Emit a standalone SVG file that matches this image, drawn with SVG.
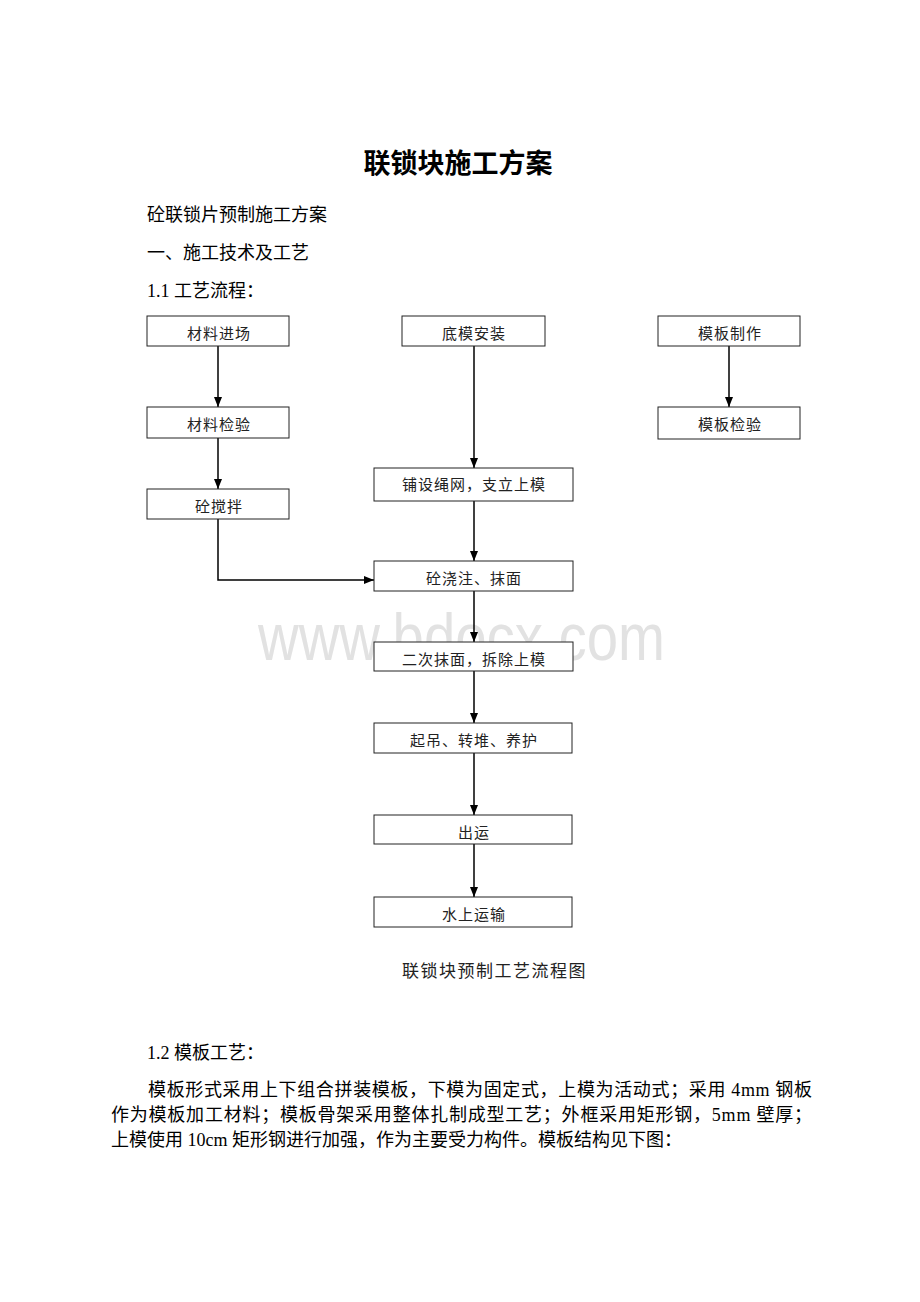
<svg xmlns="http://www.w3.org/2000/svg" width="920" height="1302" viewBox="0 0 920 1302">
<style>
.body{font-family:"Liberation Serif","Noto Sans CJK SC",serif;font-size:18px;fill:#000}
.title{font-family:"Noto Sans CJK SC",sans-serif;font-size:27px;font-weight:bold;fill:#000}
.box{fill:#fff;stroke:#222;stroke-width:1}
.lbl{font-family:"Noto Sans CJK SC",sans-serif;font-size:15px;letter-spacing:1px;fill:#222;text-anchor:middle}
.cap{font-family:"Noto Sans CJK SC",sans-serif;font-size:17px;letter-spacing:1.5px;fill:#222}
.wm{font-family:"Liberation Sans",Arial,sans-serif;font-size:66px;fill:#e2e2e2}
.con{fill:none;stroke:#000;stroke-width:1.5}
</style>
<defs>
<marker id="ah" viewBox="0 0 10 8" refX="10" refY="4" markerWidth="10" markerHeight="8" markerUnits="userSpaceOnUse" orient="auto">
<path d="M0,0 L10,4 L0,8 Z" fill="#000"/>
</marker>
</defs>
<rect width="920" height="1302" fill="#fff"/>
<text class="title" x="458" y="173" text-anchor="middle">联锁块施工方案</text>
<text class="body" x="147" y="221">砼联锁片预制施工方案</text>
<text class="body" x="147" y="259">一、施工技术及工艺</text>
<text class="body" x="147" y="297">1.1 工艺流程：</text>
<text class="wm" x="258" y="660" textLength="407" lengthAdjust="spacingAndGlyphs">www.bdocx.com</text>
<g id="connectors">
<line class="con" x1="218" y1="346" x2="218" y2="407" marker-end="url(#ah)"/>
<line class="con" x1="218" y1="438" x2="218" y2="489" marker-end="url(#ah)"/>
<polyline class="con" points="218,519 218,580 374,580" marker-end="url(#ah)"/>
<line class="con" x1="474" y1="346" x2="474" y2="468" marker-end="url(#ah)"/>
<line class="con" x1="474" y1="501" x2="474" y2="561" marker-end="url(#ah)"/>
<line class="con" x1="474" y1="591" x2="474" y2="642" marker-end="url(#ah)"/>
<line class="con" x1="474" y1="671" x2="474" y2="723" marker-end="url(#ah)"/>
<line class="con" x1="474" y1="753" x2="474" y2="815" marker-end="url(#ah)"/>
<line class="con" x1="474" y1="844" x2="474" y2="897" marker-end="url(#ah)"/>
<line class="con" x1="729" y1="346" x2="729" y2="407" marker-end="url(#ah)"/>
</g>
<g id="n1"><rect class="box" x="147" y="316" width="142" height="30"/><text class="lbl" x="219" y="339">材料进场</text></g>
<g id="n2"><rect class="box" x="147" y="407" width="142" height="31"/><text class="lbl" x="219" y="430">材料检验</text></g>
<g id="n3"><rect class="box" x="147" y="489" width="142" height="30"/><text class="lbl" x="219" y="512">砼搅拌</text></g>
<g id="n4"><rect class="box" x="402" y="316" width="143" height="30"/><text class="lbl" x="474" y="339">底模安装</text></g>
<g id="n5"><rect class="box" x="658" y="316" width="142" height="30"/><text class="lbl" x="730" y="339">模板制作</text></g>
<g id="n6"><rect class="box" x="658" y="407" width="142" height="32"/><text class="lbl" x="730" y="430">模板检验</text></g>
<g id="n7"><rect class="box" x="374" y="468" width="199" height="33"/><text class="lbl" x="474" y="490">铺设绳网，支立上模</text></g>
<g id="n8"><rect class="box" x="374" y="561" width="199" height="30"/><text class="lbl" x="474" y="584">砼浇注、抹面</text></g>
<g id="n9"><rect class="box" x="374" y="642" width="199" height="29"/><text class="lbl" x="474" y="665">二次抹面，拆除上模</text></g>
<g id="n10"><rect class="box" x="374" y="723" width="198" height="30"/><text class="lbl" x="474" y="746">起吊、转堆、养护</text></g>
<g id="n11"><rect class="box" x="374" y="815" width="198" height="29"/><text class="lbl" x="474" y="838">出运</text></g>
<g id="n12"><rect class="box" x="374" y="897" width="198" height="30"/><text class="lbl" x="474" y="920">水上运输</text></g>
<text class="cap" x="402" y="977">联锁块预制工艺流程图</text>
<text class="body" x="147" y="1059">1.2 模板工艺：</text>
<text class="body" x="148" y="1096" textLength="664" lengthAdjust="spacing">模板形式采用上下组合拼装模板，下模为固定式，上模为活动式；采用 4mm 钢板</text>
<text class="body" x="111" y="1121" textLength="701" lengthAdjust="spacing">作为模板加工材料；模板骨架采用整体扎制成型工艺；外框采用矩形钢，5mm 壁厚；</text>
<text class="body" x="111" y="1146">上模使用 10cm 矩形钢进行加强，作为主要受力构件。模板结构见下图：</text>
</svg>
